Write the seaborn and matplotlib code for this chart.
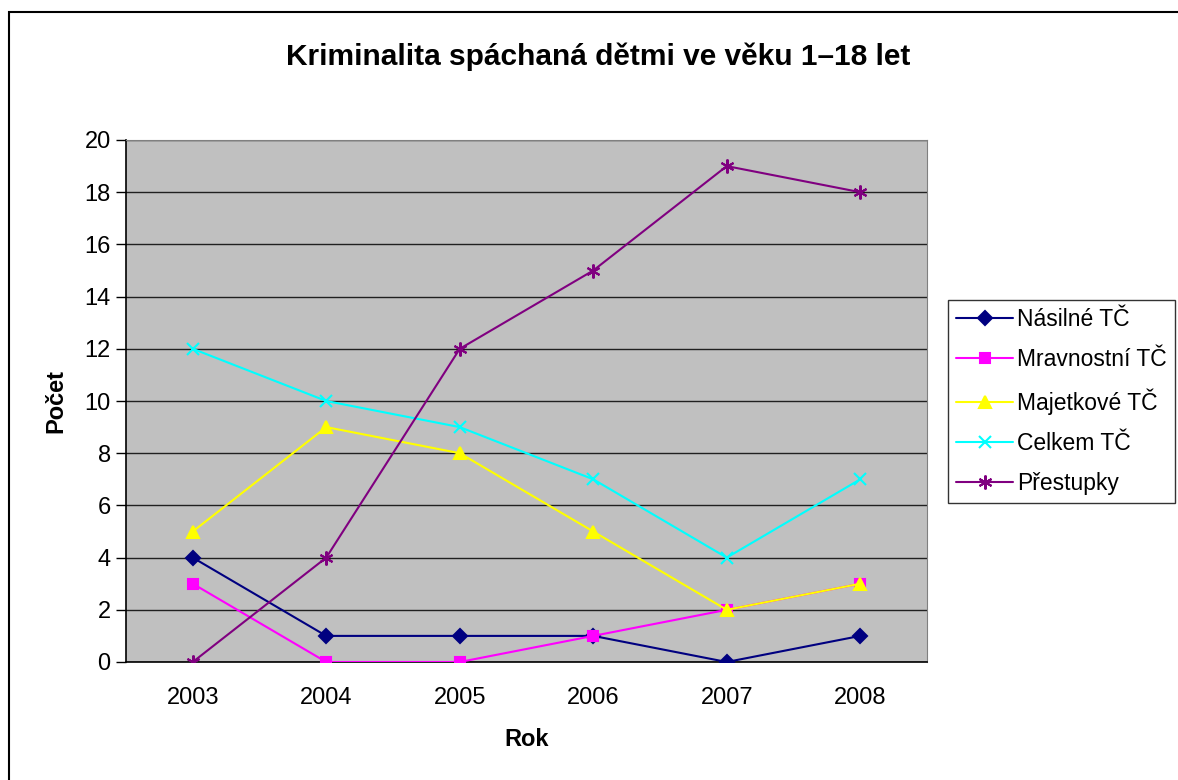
import pandas as pd
import matplotlib
matplotlib.use("Agg")
import matplotlib.pyplot as plt
import matplotlib.patches as mpatches
import seaborn as sns

years = ["2003", "2004", "2005", "2006", "2007", "2008"]
nasilne = [4, 1, 1, 1, 0, 1]
mravnostni = [3, 0, 0, 1, 2, 3]
majetkove = [5, 9, 8, 5, 2, 3]
celkem = [12, 10, 9, 7, 4, 7]
prestupky = [0, 4, 12, 15, 19, 18]

series = [
    ("Násilné TČ", nasilne, "#000080", "D", 7),
    ("Mravnostní TČ", mravnostni, "#FF00FF", "s", 7),
    ("Majetkové TČ", majetkove, "#FFFF00", "^", 9),
    ("Celkem TČ", celkem, "#00FFFF", "x", 8),
    ("Přestupky", prestupky, "#800080", (6, 2, 0), 10),
]

sns.set_style("white")
plt.rcParams["font.family"] = ["Liberation Sans", "DejaVu Sans"]
plt.rcParams["text.color"] = "black"
plt.rcParams["axes.labelcolor"] = "black"
plt.rcParams["xtick.color"] = "black"
plt.rcParams["ytick.color"] = "black"

fig = plt.figure(figsize=(11.78, 7.8), dpi=100)
ax = fig.add_axes([126 / 1178, 1 - 662 / 780, (927 - 126) / 1178, (662 - 140) / 780])
ax.set_facecolor("#C0C0C0")

x = list(range(len(years)))
for name, vals, color, marker, ms in series:
    df = pd.DataFrame({"x": x, "y": vals})
    sns.lineplot(data=df, x="x", y="y", ax=ax, color=color, marker=marker,
                 markersize=ms, markeredgecolor=color, markerfacecolor=color,
                 markeredgewidth=1.5, linewidth=1.5, label=name, legend=False, zorder=3)

ax.set_xlim(-0.5, len(years) - 0.5)
ax.set_ylim(0, 20)
ax.set_yticks(range(0, 21, 2))
ax.set_yticklabels([str(v) for v in range(0, 21, 2)], fontsize=17)
ax.set_xticks(x)
ax.set_xticklabels(years, fontsize=17)
ax.set_xticks([i - 0.5 for i in range(len(years) + 1)], minor=True)
ax.tick_params(axis="x", which="major", length=0, pad=18)
ax.tick_params(axis="x", which="minor", length=7, width=1, color="black", direction="out")
ax.tick_params(axis="y", length=7, width=1, color="black", direction="out", pad=4, left=True)
ax.yaxis.grid(True, color="#202020", linewidth=1)
ax.set_axisbelow(True)
for s in ["top", "right"]:
    ax.spines[s].set_color("#808080")
for s in ["left", "bottom"]:
    ax.spines[s].set_color("black")
    ax.spines[s].set_linewidth(1.2)

ax.set_xlabel("Rok", fontsize=17, fontweight="bold", labelpad=14)
ax.set_ylabel("Počet", fontsize=17, fontweight="bold", labelpad=12)

fig.text(0.508, 0.927, "Kriminalita spáchaná dětmi ve věku 1–18 let",
         fontsize=21.5, fontweight="bold", ha="center", va="center")

handles, labels = ax.get_legend_handles_labels()
leg = fig.legend(handles, labels, loc="upper left", bbox_to_anchor=(948 / 1178, 1 - 300 / 780),
                 fontsize=16.5, frameon=True, fancybox=False, edgecolor="black",
                 borderpad=0.35, labelspacing=0.75, handlelength=2.5, handletextpad=0.15,
                 borderaxespad=0)
leg.get_frame().set_linewidth(1)

# outer chart border
fig.patches.append(mpatches.Rectangle((9 / 1178, -0.01), 1.0, 1 - 12 / 780 + 0.01,
                                      transform=fig.transFigure, fill=False,
                                      edgecolor="black", linewidth=1.5))

fig.savefig("out.png", dpi=100)
